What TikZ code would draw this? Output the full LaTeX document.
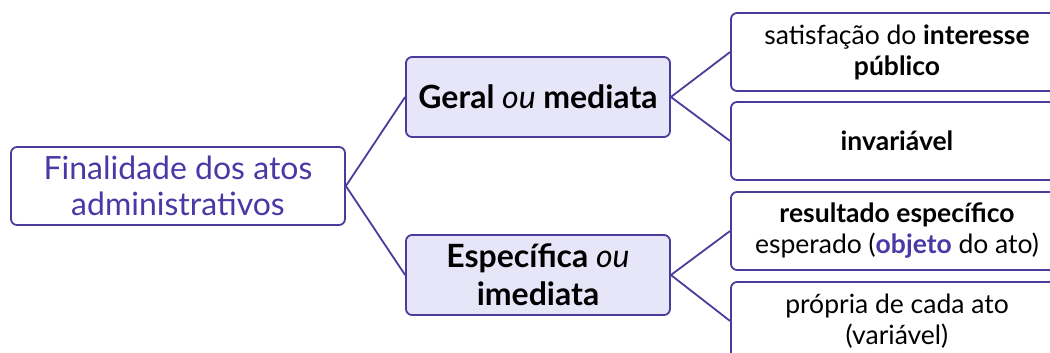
\documentclass[tikz,border=0pt]{standalone}
\usepackage{fontspec}
\setmainfont{Lato}
\usepackage{tikz}
\definecolor{edgepurple}{HTML}{4B3C9C}
\definecolor{textpurple}{HTML}{4A38A6}
\definecolor{midfill}{HTML}{E7E5F8}
\tikzset{
	box/.style={draw=edgepurple, line width=1.8pt, rounded corners=6pt, align=center, inner sep=0pt},
	rootbox/.style={box, minimum width=334pt, minimum height=78pt, text=textpurple, font=\fontsize{32}{36}\selectfont},
	midbox/.style={box, fill=midfill, minimum width=264pt, minimum height=80pt, font=\fontsize{32}{38}\selectfont},
	leafbox/.style={box, minimum width=332pt, minimum height=78pt, font=\fontsize{26.5}{31}\selectfont},
	branch/.style={draw=edgepurple, line width=1.8pt}
}

\begin{document}
\begin{tikzpicture}[x=1pt, y=-1pt]
		\useasboundingbox[clip] (0,0) rectangle (1050,353);
		\node (finalidade) at (178, 186) [rootbox] {Finalidade dos atos\\administrativos};
		\node (geral) at (538, 97) [midbox] {\bfseries Geral \mdseries\itshape ou \upshape\bfseries mediata};
		\node (especifica) at (538, 275) [midbox] {\bfseries Específica \mdseries\itshape ou\\\upshape\bfseries imediata};
		
		\node (interesse) at (897, 52) [leafbox] {satisfação do \textbf{interesse}\\\textbf{público}};
		\node (invariavel) at (897, 141) [leafbox] {\textbf{invariável}};
		\node (resultado) at (897, 231) [leafbox] {\textbf{resultado específico}\\esperado (\textbf{\textcolor{textpurple}{objeto}} do ato)};
		\node (propria) at (897, 321) [leafbox] {própria de cada ato\\(variável)};
		
		\path[branch] (finalidade.east) -- (geral.west);
		\path[branch] (finalidade.east) -- (especifica.west);
		\path[branch] (geral.east) -- (interesse.west);
		\path[branch] (geral.east) -- (invariavel.west);
		\path[branch] (especifica.east) -- (resultado.west);
		\path[branch] (especifica.east) -- (propria.west);
		
	\end{tikzpicture}
\end{document}
